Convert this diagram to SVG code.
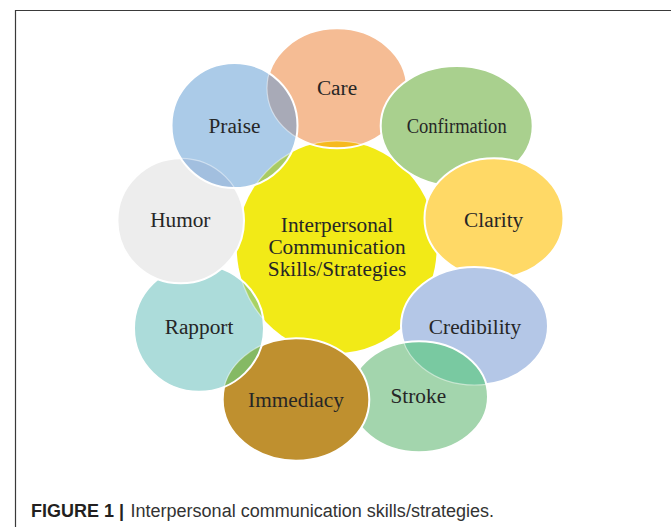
<svg xmlns="http://www.w3.org/2000/svg" width="671" height="527" viewBox="0 0 671 527">
  <style>
    .ring { fill: none; stroke: #ffffff; stroke-width: 2; }
    .ghost { fill: none; stroke: #ffffff; stroke-opacity: 0.45; stroke-width: 1.2; }
    .label { font-family: "Liberation Serif", "Times New Roman", serif; font-size: 21.3px; fill: #262626; text-anchor: middle; }
    .frame { fill: none; stroke: #3a3a3a; stroke-width: 1.2; }
    .cap-bold { font-family: "Liberation Sans", Arial, sans-serif; font-weight: bold; font-size: 18px; fill: #231f20; }
    .cap { font-family: "Liberation Sans", Arial, sans-serif; font-size: 18px; fill: #333333; }
  </style>
  <defs>
    <!-- outlines of the shapes that sit underneath a translucent neighbour -->
    <clipPath id="clip-core"><ellipse cx="336.7" cy="247" rx="100" ry="106"/></clipPath>
    <clipPath id="clip-care"><ellipse cx="337" cy="88.3" rx="70" ry="60"/></clipPath>
    <clipPath id="clip-humor"><ellipse cx="180.7" cy="220.8" rx="63.3" ry="62.5"/></clipPath>
    <clipPath id="clip-immediacy"><ellipse cx="296" cy="399.5" rx="73.3" ry="61.2"/></clipPath>
    <clipPath id="clip-credibility"><ellipse cx="474.5" cy="326" rx="73.5" ry="59"/></clipPath>
    <!-- outlines of the translucent shapes on top -->
    <clipPath id="clip-praise"><ellipse cx="234.5" cy="125.5" rx="63" ry="62.5"/></clipPath>
    <clipPath id="clip-rapport"><ellipse cx="199" cy="328.2" rx="65" ry="63.5"/></clipPath>
    <clipPath id="clip-stroke"><ellipse cx="419" cy="396.7" rx="69" ry="55.5"/></clipPath>
  </defs>

  <rect width="671" height="527" fill="#ffffff"/>
  <!-- figure frame -->
  <path class="frame" d="M15.5 527 V10.5 H671"/>

  <!-- centre shape -->
  <g id="core">
    <ellipse cx="336.7" cy="247" rx="100" ry="106" fill="#f2ea17"/>
    <text class="label" x="337" y="231.7">Interpersonal</text>
    <text class="label" x="337" y="254">Communication</text>
    <text class="label" x="337" y="276">Skills/Strategies</text>
  </g>

  <g id="care">
    <ellipse cx="337" cy="88.3" rx="70" ry="60" fill="#f5bc94"/>
    <ellipse cx="337" cy="88.3" rx="70" ry="60" fill="#f6b91e" clip-path="url(#clip-core)"/>
    <g clip-path="url(#clip-care)"><ellipse class="ghost" cx="336.7" cy="247" rx="100" ry="106"/></g>
    <ellipse class="ring" cx="337" cy="88.3" rx="70" ry="60"/>
    <text class="label" x="337" y="95">Care</text>
  </g>

  <g id="confirmation">
    <ellipse cx="456.7" cy="126" rx="76" ry="60" fill="#a9d08e"/>
    <ellipse class="ring" cx="456.7" cy="126" rx="76" ry="60"/>
    <text class="label" x="456.7" y="133.3" textLength="100" lengthAdjust="spacingAndGlyphs">Confirmation</text>
  </g>

  <g id="clarity">
    <ellipse cx="494" cy="218.2" rx="69.5" ry="60" fill="#ffd966"/>
    <ellipse class="ring" cx="494" cy="218.2" rx="69.5" ry="60"/>
    <text class="label" x="493.7" y="227.3">Clarity</text>
  </g>

  <g id="credibility">
    <ellipse cx="474.5" cy="326" rx="73.5" ry="59" fill="#b4c7e7"/>
    <ellipse class="ring" cx="474.5" cy="326" rx="73.5" ry="59"/>
    <text class="label" x="475" y="334">Credibility</text>
  </g>

  <g id="stroke">
    <ellipse cx="419" cy="396.7" rx="69" ry="55.5" fill="#a3d5ad"/>
    <ellipse cx="419" cy="396.7" rx="69" ry="55.5" fill="#79c9a1" clip-path="url(#clip-credibility)"/>
    <g clip-path="url(#clip-stroke)"><ellipse class="ghost" cx="474.5" cy="326" rx="73.5" ry="59"/></g>
    <ellipse class="ring" cx="419" cy="396.7" rx="69" ry="55.5"/>
    <text class="label" x="418.3" y="402.7">Stroke</text>
  </g>

  <g id="immediacy">
    <ellipse cx="296" cy="399.5" rx="73.3" ry="61.2" fill="#bf902f"/>
    <ellipse class="ring" cx="296" cy="399.5" rx="73.3" ry="61.2"/>
    <text class="label" x="296" y="406.7">Immediacy</text>
  </g>

  <g id="rapport">
    <ellipse cx="199" cy="328.2" rx="65" ry="63.5" fill="#acdcda"/>
    <ellipse cx="199" cy="328.2" rx="65" ry="63.5" fill="#a7d265" clip-path="url(#clip-core)"/>
    <ellipse cx="199" cy="328.2" rx="65" ry="63.5" fill="#85b964" clip-path="url(#clip-immediacy)"/>
    <g clip-path="url(#clip-rapport)">
      <ellipse class="ghost" cx="336.7" cy="247" rx="100" ry="106"/>
      <ellipse class="ghost" cx="296" cy="399.5" rx="73.3" ry="61.2"/>
    </g>
    <ellipse class="ring" cx="199" cy="328.2" rx="65" ry="63.5"/>
    <text class="label" x="199" y="334">Rapport</text>
  </g>

  <g id="humor">
    <ellipse cx="180.7" cy="220.8" rx="63.3" ry="62.5" fill="#ededed"/>
    <ellipse class="ring" cx="180.7" cy="220.8" rx="63.3" ry="62.5"/>
    <text class="label" x="180.3" y="226.7">Humor</text>
  </g>

  <g id="praise">
    <ellipse cx="234.5" cy="125.5" rx="63" ry="62.5" fill="#abcbe8"/>
    <ellipse cx="234.5" cy="125.5" rx="63" ry="62.5" fill="#a9cb63" clip-path="url(#clip-core)"/>
    <ellipse cx="234.5" cy="125.5" rx="63" ry="62.5" fill="#a8aab7" clip-path="url(#clip-care)"/>
    <ellipse cx="234.5" cy="125.5" rx="63" ry="62.5" fill="#a2bfdf" clip-path="url(#clip-humor)"/>
    <g clip-path="url(#clip-praise)">
      <ellipse class="ghost" cx="336.7" cy="247" rx="100" ry="106"/>
      <ellipse class="ghost" cx="337" cy="88.3" rx="70" ry="60"/>
      <ellipse class="ghost" cx="180.7" cy="220.8" rx="63.3" ry="62.5"/>
    </g>
    <ellipse class="ring" cx="234.5" cy="125.5" rx="63" ry="62.5"/>
    <text class="label" x="234.5" y="133.3">Praise</text>
  </g>

  <!-- caption -->
  <text class="cap-bold" x="31" y="516.5" textLength="93" lengthAdjust="spacingAndGlyphs">FIGURE 1 |</text>
  <text class="cap" x="130.5" y="516.5" textLength="363.5" lengthAdjust="spacingAndGlyphs">Interpersonal communication skills/strategies.</text>
</svg>
